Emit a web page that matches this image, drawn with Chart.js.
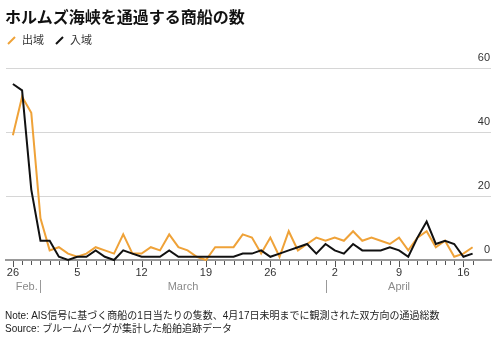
<!DOCTYPE html>
<html>
<head>
<meta charset="utf-8">
<script src="https://cdn.jsdelivr.net/npm/chart.js@4"></script>
<style>
  body { margin: 0; background: #fff; }
  #wrap { position: relative; width: 502px; height: 345px; overflow: hidden; }
  #shipsChart { position: absolute; left: 0; top: 0; }
  .txt { position: absolute; font-family: "Liberation Sans", "Noto Sans CJK JP", sans-serif; color: #222; white-space: nowrap; }
  #title { left: 5px; top: 5px; font-size: 16px; line-height: 22px; font-weight: 700; color: #111; font-family: "Noto Sans CJK JP", sans-serif; }
  .leg { top: 32px; font-size: 11px; line-height: 16px; color: #333; }
  .leg svg { position: absolute; left: 0; top: 4px; }
  .leg span { position: absolute; left: 15px; top: 0; }
  .note { left: 5px; font-size: 10px; line-height: 14px; }
</style>
</head>
<body>
<div id="wrap">
  <canvas id="shipsChart" width="502" height="345"></canvas>
  <div id="title" class="txt">ホルムズ海峡を通過する商船の数</div>
  <div class="txt leg" style="left:7px;width:40px;">
    <svg width="9" height="9"><line x1="1" y1="8" x2="8" y2="1" stroke="#EFA238" stroke-width="2"/></svg>
    <span>出域</span>
  </div>
  <div class="txt leg" style="left:55px;width:40px;">
    <svg width="9" height="9"><line x1="1" y1="8" x2="8" y2="1" stroke="#111" stroke-width="2"/></svg>
    <span>入域</span>
  </div>
  <div class="txt note" style="top:309px;">Note: AIS信号に基づく商船の1日当たりの隻数、4月17日未明までに観測された双方向の通過総数</div>
  <div class="txt note" style="top:322px;">Source: ブルームバーグが集計した船舶追跡データ</div>
</div>
<script>
// day of month for each point, Feb 26 through Apr 17
const days = [26, 27, 28,
  1, 2, 3, 4, 5, 6, 7, 8, 9, 10, 11, 12, 13, 14, 15, 16, 17, 18, 19, 20,
  21, 22, 23, 24, 25, 26, 27, 28, 29, 30, 31,
  1, 2, 3, 4, 5, 6, 7, 8, 9, 10, 11, 12, 13, 14, 15, 16, 17];

// ships leaving the strait (出域)
const outbound = [39, 51, 46, 13, 3, 4, 2, 1, 2, 4, 3, 2, 8, 2, 2, 4, 3,
  8, 4, 3, 1, 0, 4, 4, 4, 8, 7, 2, 7, 1, 9, 3, 5, 7, 6, 7, 6, 9, 6, 7,
  6, 5, 7, 3, 7, 9, 4, 6, 1, 2, 4];

// ships entering the strait (入域)
const inbound = [55, 53, 22, 6, 6, 1, 0, 1, 1, 3, 1, 0, 3, 2, 1, 1, 1,
  3, 1, 1, 1, 1, 1, 1, 1, 2, 2, 3, 1, 2, 3, 4, 5, 2, 5, 3, 2, 5, 3, 3,
  3, 4, 3, 1, 7, 12, 5, 6, 5, 1, 2];

const yTicks = [0, 20, 40, 60];

// month names and the index where each month starts
const months = ['Feb.', 'March', 'April'];
const monthStarts = [0, 3, 34];

const orange = '#EFA238';

// minor day ticks, weekly major ticks, month row below the axis
const axisExtras = {
  id: 'axisExtras',
  afterDraw(chart) {
    const ctx = chart.ctx;
    const xs = chart.scales.x;
    const base = chart.chartArea.bottom + 1;
    ctx.save();
    ctx.strokeStyle = '#555';
    ctx.lineWidth = 1;
    days.forEach((d, i) => {
      const px = Math.round(xs.getPixelForValue(i)) + 0.5;
      ctx.beginPath();
      ctx.moveTo(px, base);
      ctx.lineTo(px, base + (i % 7 === 0 ? 6 : 4));
      ctx.stroke();
    });

    ctx.font = '11px "Liberation Sans", Arial, sans-serif';
    ctx.fillStyle = '#8a8a8a';
    ctx.textAlign = 'center';
    ctx.textBaseline = 'middle';
    const rowY = 287;
    const last = days.length - 1;
    months.forEach((m, k) => {
      const a = monthStarts[k];
      const b = k + 1 < months.length ? monthStarts[k + 1] : last;
      const cx = (xs.getPixelForValue(a) + xs.getPixelForValue(b)) / 2;
      ctx.fillText(m, cx, rowY);
      if (k > 0) {
        const sx = Math.round(xs.getPixelForValue(a)) + 0.5;
        ctx.strokeStyle = '#999';
        ctx.beginPath();
        ctx.moveTo(sx, rowY - 7);
        ctx.lineTo(sx, rowY + 6);
        ctx.stroke();
      }
    });
    ctx.restore();
  }
};

const shipsChart = new Chart(
  document.getElementById('shipsChart'),
  {
    type: 'line',
    data: {
      datasets: [
        {
          label: '入域',
          data: inbound.map((v, i) => ({ x: i, y: v })),
          borderColor: '#111',
          borderWidth: 2,
          order: 0,
          clip: 6,
        },
        {
          label: '出域',
          data: outbound.map((v, i) => ({ x: i, y: v })),
          borderColor: orange,
          borderWidth: 2,
          order: 1,
          clip: 6,
        },
      ]
    },
    options: {
      responsive: false,
      animation: false,
      events: [],
      layout: { padding: { top: 68, left: 6, right: 0, bottom: 0 } },
      elements: {
        point: { radius: 0 },
        line: { tension: 0, borderJoinStyle: 'miter' },
      },
      plugins: {
        legend: { display: false },
        title: { display: false },
        tooltip: { enabled: false },
      },
      scales: {
        x: {
          type: 'linear',
          min: -0.75,
          max: 52,
          afterBuildTicks: (scale) => {
            scale.ticks = days.map((d, i) => ({ value: i }));
          },
          afterFit: (scale) => { scale.height = 85; },
          grid: { display: false, drawTicks: false },
          border: { display: true, color: '#999', width: 2 },
          ticks: {
            autoSkip: false,
            maxRotation: 0,
            padding: 6,
            color: '#333',
            font: { family: '"Liberation Sans", Arial, sans-serif', size: 11 },
            callback: (v) => (v % 7 === 0 ? String(days[v]) : ''),
          },
        },
        y: {
          position: 'right',
          min: 0,
          max: 60,
          afterBuildTicks: (scale) => {
            scale.ticks = yTicks.map((v) => ({ value: v }));
          },
          afterFit: (scale) => { scale.width = 11; },
          grid: {
            color: (c) => (c.tick && c.tick.value === 0 ? 'rgba(0,0,0,0)' : '#d6d6d6'),
            drawTicks: false,
            lineWidth: 1,
          },
          border: { display: false },
          ticks: {
            mirror: true,
            padding: -1,
            labelOffset: -10,
            color: '#333',
            font: { family: '"Liberation Sans", Arial, sans-serif', size: 11 },
          },
        },
      },
    },
    plugins: [axisExtras],
  }
);
</script>
</body>
</html>
